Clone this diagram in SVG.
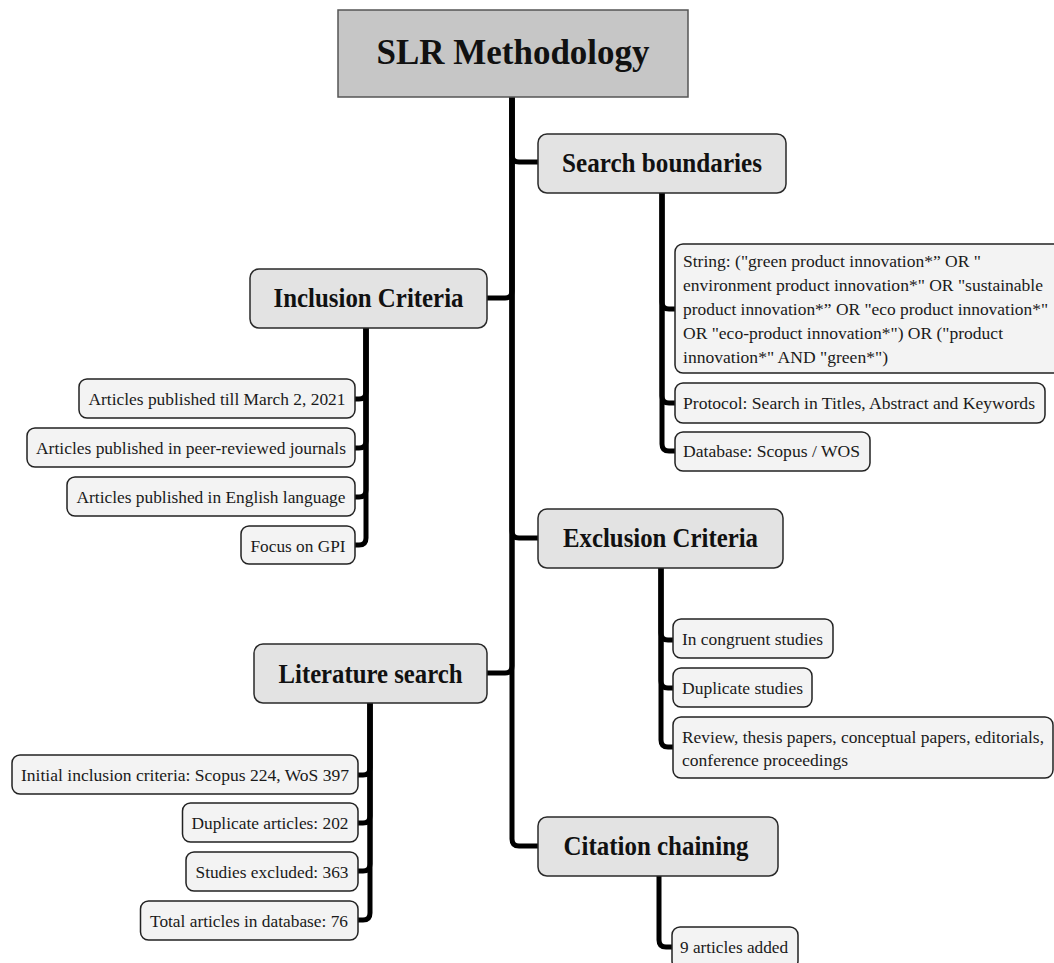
<svg xmlns="http://www.w3.org/2000/svg" width="1054" height="963" viewBox="0 0 1054 963">
<style>
.root{fill:#c6c6c6;stroke:#555;stroke-width:1.5}
.hdr{fill:#e3e3e3;stroke:#2a2a2a;stroke-width:1.5}
.leaf{fill:#f3f3f3;stroke:#222;stroke-width:1.5}
.tr{font-family:"Liberation Serif","Times New Roman",serif;font-weight:bold;font-size:35px;fill:#111;text-anchor:middle}
.th{font-family:"Liberation Serif","Times New Roman",serif;font-weight:bold;font-size:27px;fill:#111;text-anchor:middle}
.tl{font-family:"Liberation Serif","Times New Roman",serif;font-size:17.5px;fill:#1a1a1a}
.m{text-anchor:middle}
.conn path{fill:none;stroke:#000;stroke-width:5;stroke-linejoin:round}
</style>
<rect width="1054" height="963" fill="#fff"/>
<g class="conn" id="connectors">
<path d="M512,97 V155 Q512,162 519,162 H538"/>
<path d="M512,97 V291 Q512,298 505,298 H487"/>
<path d="M512,97 V531 Q512,538 519,538 H538"/>
<path d="M512,97 V666 Q512,673 505,673 H487"/>
<path d="M512,97 V839 Q512,846 519,846 H538"/>
<path d="M662,193 V302 Q662,309 669,309 H675"/>
<path d="M662,193 V396 Q662,403 669,403 H675"/>
<path d="M662,193 V444 Q662,451 669,451 H675"/>
<path d="M366,328 V392 Q366,399 359,399 H355"/>
<path d="M366,328 V441 Q366,448 359,448 H355"/>
<path d="M366,328 V490 Q366,497 359,497 H355"/>
<path d="M366,328 V538 Q366,545 359,545 H355"/>
<path d="M370,703 V768 Q370,775 363,775 H358"/>
<path d="M370,703 V816 Q370,823 363,823 H358"/>
<path d="M370,703 V864 Q370,871 363,871 H358"/>
<path d="M370,703 V913 Q370,920 363,920 H358"/>
<path d="M661,568 V633 Q661,640 668,640 H673"/>
<path d="M661,568 V681 Q661,688 668,688 H673"/>
<path d="M661,568 V740 Q661,747 668,747 H673"/>
<path d="M659,876 V940 Q659,947 666,947 H672"/>
</g>
<g id="root"><rect class="root" x="338" y="10" width="350" height="87"/><text class="tr" x="513" y="64" textLength="273" lengthAdjust="spacingAndGlyphs">SLR Methodology</text></g>
<g id="search"><rect class="hdr" x="538" y="134" width="248" height="59" rx="9"/><text class="th" x="662" y="172" textLength="200" lengthAdjust="spacingAndGlyphs">Search boundaries</text></g>
<g id="inclusion"><rect class="hdr" x="250" y="269" width="237" height="59" rx="9"/><text class="th" x="368.5" y="307" textLength="190" lengthAdjust="spacingAndGlyphs">Inclusion Criteria</text></g>
<g id="exclusion"><rect class="hdr" x="538" y="509" width="245" height="59" rx="9"/><text class="th" x="660.5" y="547" textLength="195" lengthAdjust="spacingAndGlyphs">Exclusion Criteria</text></g>
<g id="literature"><rect class="hdr" x="254" y="644" width="233" height="59" rx="9"/><text class="th" x="370.5" y="683" textLength="184" lengthAdjust="spacingAndGlyphs">Literature search</text></g>
<g id="citation"><rect class="hdr" x="538" y="817" width="240" height="59" rx="9"/><text class="th" x="656" y="855" textLength="185" lengthAdjust="spacingAndGlyphs">Citation chaining</text></g>
<g id="s-string"><rect class="leaf" x="675" y="244" width="400" height="129" rx="8"/>
<text class="tl" x="683" y="266.5" textLength="298" lengthAdjust="spacingAndGlyphs">String: ("green product innovation*” OR "</text>
<text class="tl" x="683" y="290.5" textLength="360" lengthAdjust="spacingAndGlyphs">environment product innovation*" OR "sustainable</text>
<text class="tl" x="683" y="314.5" textLength="365" lengthAdjust="spacingAndGlyphs">product innovation*” OR "eco product innovation*"</text>
<text class="tl" x="683" y="338.5" textLength="320" lengthAdjust="spacingAndGlyphs">OR "eco-product innovation*") OR ("product</text>
<text class="tl" x="683" y="362.5" textLength="205" lengthAdjust="spacingAndGlyphs">innovation*" AND "green*")</text></g>
<g id="s-protocol"><rect class="leaf" x="675" y="383" width="370" height="40" rx="8"/><text class="tl" x="683" y="409" textLength="352" lengthAdjust="spacingAndGlyphs">Protocol: Search in Titles, Abstract and Keywords</text></g>
<g id="s-database"><rect class="leaf" x="675" y="432" width="195" height="39" rx="8"/><text class="tl" x="683" y="457" textLength="177" lengthAdjust="spacingAndGlyphs">Database: Scopus / WOS</text></g>
<g id="i-1"><rect class="leaf" x="79" y="379" width="276" height="39" rx="8"/><text class="tl m" x="217" y="405" textLength="257" lengthAdjust="spacingAndGlyphs">Articles published till March 2, 2021</text></g>
<g id="i-2"><rect class="leaf" x="27" y="428" width="328" height="39" rx="8"/><text class="tl m" x="191" y="454" textLength="310" lengthAdjust="spacingAndGlyphs">Articles published in peer-reviewed journals</text></g>
<g id="i-3"><rect class="leaf" x="67" y="477" width="288" height="39" rx="8"/><text class="tl m" x="211" y="503" textLength="269" lengthAdjust="spacingAndGlyphs">Articles published in English language</text></g>
<g id="i-4"><rect class="leaf" x="241" y="526" width="114" height="38" rx="8"/><text class="tl m" x="298" y="552" textLength="95" lengthAdjust="spacingAndGlyphs">Focus on GPI</text></g>
<g id="l-1"><rect class="leaf" x="12" y="755" width="346" height="39" rx="8"/><text class="tl m" x="185" y="780.5" textLength="328" lengthAdjust="spacingAndGlyphs">Initial inclusion criteria: Scopus 224, WoS 397</text></g>
<g id="l-2"><rect class="leaf" x="182.5" y="803" width="175.5" height="39" rx="8"/><text class="tl m" x="270" y="829" textLength="157" lengthAdjust="spacingAndGlyphs">Duplicate articles: 202</text></g>
<g id="l-3"><rect class="leaf" x="186" y="852" width="172" height="39" rx="8"/><text class="tl m" x="272" y="877.5" textLength="153" lengthAdjust="spacingAndGlyphs">Studies excluded: 363</text></g>
<g id="l-4"><rect class="leaf" x="140.5" y="901" width="217.5" height="39" rx="8"/><text class="tl m" x="249" y="927" textLength="198" lengthAdjust="spacingAndGlyphs">Total articles in database: 76</text></g>
<g id="e-1"><rect class="leaf" x="673" y="619" width="160" height="39" rx="8"/><text class="tl" x="682" y="645" textLength="141" lengthAdjust="spacingAndGlyphs">In congruent studies</text></g>
<g id="e-2"><rect class="leaf" x="673" y="668" width="139" height="39" rx="8"/><text class="tl" x="682" y="694" textLength="121" lengthAdjust="spacingAndGlyphs">Duplicate studies</text></g>
<g id="e-3"><rect class="leaf" x="673" y="717" width="380" height="61" rx="8"/>
<text class="tl" x="682" y="742.5" textLength="362" lengthAdjust="spacingAndGlyphs">Review, thesis papers, conceptual papers, editorials,</text>
<text class="tl" x="682" y="765.5" textLength="166" lengthAdjust="spacingAndGlyphs">conference proceedings</text></g>
<g id="c-1"><rect class="leaf" x="672" y="927" width="126" height="42" rx="8"/><text class="tl" x="680" y="953" textLength="108" lengthAdjust="spacingAndGlyphs">9 articles added</text></g>
</svg>
